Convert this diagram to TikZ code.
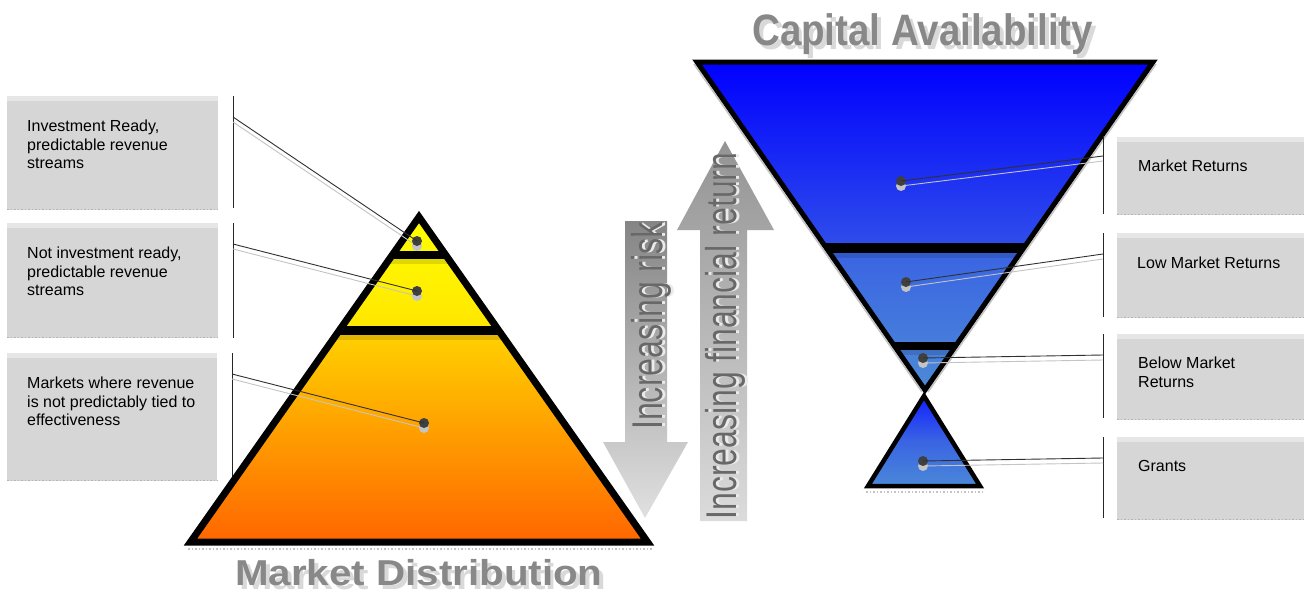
\documentclass[tikz,border=0pt]{standalone}
\usepackage{fontspec}
\setmainfont{Liberation Sans}
\usepackage{graphicx}

% palette
\definecolor{boxgray}{HTML}{D6D6D6}
\definecolor{boxtop}{HTML}{E6E6E6}
\definecolor{boxedge}{HTML}{B4B4B4}
\definecolor{leadgray}{HTML}{303030}
\definecolor{shadowgray}{HTML}{C4C4C4}
\definecolor{dotgray}{HTML}{404040}
\definecolor{titlegray}{HTML}{888888}
\definecolor{titleshadow}{HTML}{D9D9D9}
\definecolor{arrowtextgray}{HTML}{686868}
\definecolor{arrowshadow}{HTML}{EBEBEB}
\definecolor{pyrA}{HTML}{FFFF00}
\definecolor{pyrB}{HTML}{FFE600}
\definecolor{pyrB2}{HTML}{FFD000}
\definecolor{pyrC}{HTML}{FF6600}
\definecolor{funA}{HTML}{0000FF}
\definecolor{funB}{HTML}{2E4CEB}
\definecolor{funB2}{HTML}{3A64E3}
\definecolor{funC}{HTML}{4C8AD7}
\definecolor{grA}{HTML}{1020FF}
\definecolor{grC}{HTML}{4A88D8}

% vertical shadings (the path box spans 25bp..75bp)
\pgfdeclareverticalshading{pyramidfill}{100bp}{color(0bp)=(pyrC); color(25bp)=(pyrC); color(56.8bp)=(pyrB2); color(58bp)=(pyrB); color(75bp)=(pyrA); color(100bp)=(pyrA)}
\pgfdeclareverticalshading{funnelfill}{100bp}{color(0bp)=(funC); color(25bp)=(funC); color(46bp)=(funB2); color(47.5bp)=(funB); color(75bp)=(funA); color(100bp)=(funA)}

% text with a soft offset shadow: #1 text, #2 shadow colour, #3 text colour, #4 right shift, #5 down shift
\newcommand\castshadow[5]{\rlap{\kern#4\raisebox{-#5}{\color{#2}#1}}{\color{#3}#1}}

\begin{document}
\begin{tikzpicture}[x=1pt,y=-1pt,
  labelbox/.style={fill=boxgray, draw=none, inner sep=0, anchor=north west},
  labeltext/.style={font=\fontsize{16}{18.3}\selectfont, text=black, align=left, inner sep=0, anchor=north west},
  leader/.style={draw=leadgray, line width=0.9},
  leadshadow/.style={draw=shadowgray, line width=0.9},
  vbar/.style={draw=black!85, line width=1},
  dot/.style={circle, fill=dotgray, inner sep=0, minimum size=10},
  dotshadow/.style={circle, fill=shadowgray, inner sep=0, minimum size=10},
  titletext/.style={font=\fontsize{44}{50}\selectfont\bfseries, inner sep=0, anchor=base west},
  arrowtext/.style={font=\fontsize{43}{50}\selectfont, inner sep=0, anchor=base, rotate=90},
  outline/.style={draw=black, line join=miter}
]
\useasboundingbox[fill=white] (0,0) rectangle (1304,592);

% ---------- left label boxes ----------
\node[labelbox, minimum width=211, minimum height=114] (lbox1) at (7,96) {};
\node[labelbox, minimum width=211, minimum height=115] (lbox2) at (7,223) {};
\node[labelbox, minimum width=210, minimum height=128] (lbox3) at (7,353) {};
\foreach \b in {lbox1,lbox2,lbox3}{
  \fill[boxtop] (\b.north west) rectangle ([yshift=-5pt]\b.north east);
  \draw[boxedge, dotted, line width=1.5] ([yshift=1pt]\b.south west) -- ([yshift=1pt]\b.south east);
}
\node[labeltext] (ltext1) at (27,120) {Investment Ready,\\predictable revenue\\streams};
\node[labeltext] (ltext2) at (27,247) {Not investment ready,\\predictable revenue\\streams};
\node[labeltext] (ltext3) at (27,377) {Markets where revenue\\is not predictably tied to\\effectiveness};

% brackets beside the left boxes
\coordinate (lv1a) at (233,96);  \coordinate (lv1b) at (233,208);
\coordinate (lv2a) at (233,223); \coordinate (lv2b) at (233,338);
\coordinate (lv3a) at (232,353); \coordinate (lv3b) at (232,480);
\draw[vbar] (lv1a) -- (lv1b);
\draw[vbar] (lv2a) -- (lv2b);
\draw[vbar] (lv3a) -- (lv3b);

% ---------- pyramid ----------
\coordinate (pA) at (419,217);
\coordinate (pL) at (190.5,542);
\coordinate (pR) at (647.5,542);
\shade[shading=pyramidfill] (pA) -- (pL) -- (pR) -- cycle;
\begin{scope}
  \clip (pA) -- (pL) -- (pR) -- cycle;
  \fill[black, opacity=0.12] (150,259) rectangle (700,264);
  \fill[black, opacity=0.12] (150,335) rectangle (700,340);
  \fill[black] (150,251) rectangle (700,259);
  \fill[black] (150,326) rectangle (700,335);
\end{scope}
\draw[shadowgray, line width=1.5, dotted] (188,549) -- (652,549);
\draw[outline, line width=7] (pA) -- (pL) -- (pR) -- cycle;

% ---------- funnel ----------
\coordinate (fL) at (697,62);
\coordinate (fR) at (1153,62);
\coordinate (fA) at (925,390);
\draw[shadowgray, line width=1.5] ([xshift=3pt,yshift=-2pt]fR) -- ([xshift=3pt,yshift=-2pt]fA);
\draw[shadowgray, line width=1.5] ([xshift=-3pt,yshift=-2pt]fL) -- ([xshift=-3pt,yshift=-2pt]fA);
\shade[shading=funnelfill] (fL) -- (fR) -- (fA) -- cycle;
\begin{scope}
  \clip (fL) -- (fR) -- (fA) -- cycle;
  \fill[black, opacity=0.12] (650,253) rectangle (1200,258);
  \fill[black, opacity=0.12] (650,350) rectangle (1200,355);
  \fill[black] (650,243) rectangle (1200,253);
  \fill[black] (650,342) rectangle (1200,350);
\end{scope}
\draw[outline, line width=5] (fL) -- (fR) -- (fA) -- cycle;

% grants triangle
\coordinate (gA) at (924,396);
\coordinate (gL) at (868,486);
\coordinate (gR) at (980,486);
\shade[top color=grA, bottom color=grC, middle color=funB2] (gA) -- (gL) -- (gR) -- cycle;
\draw[shadowgray, line width=1.5, dotted] (866,492) -- (984,492);
\draw[outline, line width=4.5] (gA) -- (gL) -- (gR) -- cycle;

% ---------- right label boxes ----------
\node[labelbox, minimum width=187, minimum height=78] (rbox1) at (1117,137) {};
\node[labelbox, minimum width=187, minimum height=85] (rbox2) at (1117,233) {};
\node[labelbox, minimum width=187, minimum height=86] (rbox3) at (1117,334) {};
\node[labelbox, minimum width=187, minimum height=83] (rbox4) at (1117,437) {};
\foreach \b in {rbox1,rbox2,rbox3,rbox4}{
  \fill[boxtop] (\b.north west) rectangle ([yshift=-5pt]\b.north east);
  \draw[boxedge, dotted, line width=1.5] ([yshift=1pt]\b.south west) -- ([yshift=1pt]\b.south east);
}
\node[labeltext] (rtext1) at (1138,160) {Market Returns};
\node[labeltext] (rtext2) at (1137,257) {Low Market Returns};
\node[labeltext] (rtext3) at (1138,357) {Below Market\\Returns};
\node[labeltext] (rtext4) at (1138,460) {Grants};

\coordinate (rv1a) at (1103,136); \coordinate (rv1b) at (1103,214);
\coordinate (rv2a) at (1103,233); \coordinate (rv2b) at (1103,317);
\coordinate (rv3a) at (1103,334); \coordinate (rv3b) at (1103,418);
\coordinate (rv4a) at (1103,437); \coordinate (rv4b) at (1103,518);
\draw[vbar] (rv1a) -- (rv1b);
\draw[vbar] (rv2a) -- (rv2b);
\draw[vbar] (rv3a) -- (rv3b);
\draw[vbar] (rv4a) -- (rv4b);

% ---------- arrows ----------
\coordinate (dnA) at (625,221);
\shade[top color=black!48, bottom color=black!12]
  (dnA) -- (667,221) -- (667,442) -- (688,442) -- (645,518) -- (603,442) -- (625,442) -- cycle;
\coordinate (upA) at (725,141);
\shade[top color=black!42, bottom color=black!14]
  (upA) -- (774,230) -- (747,230) -- (747,521) -- (700,521) -- (700,230) -- (677,230) -- cycle;

\node[arrowtext] (risk) at (662,326)
  {\scalebox{0.75}[1]{\castshadow{Increasing risk}{arrowshadow}{arrowtextgray}{0pt}{3pt}}};
\node[arrowtext] (return) at (736,336)
  {\scalebox{0.745}[1]{\castshadow{Increasing financial return}{arrowshadow}{arrowtextgray}{0pt}{3pt}}};

% ---------- titles ----------
\node[titletext] (captitle) at (752,45)
  {\scalebox{0.875}[1]{\castshadow{Capital Availability}{titleshadow}{titlegray}{4.5pt}{4pt}}};
\node[titletext, font=\fontsize{36}{42}\selectfont\bfseries] (mkttitle) at (235,585)
  {\scalebox{1.12}[1]{\castshadow{Market Distribution}{titleshadow}{titlegray}{3.5pt}{4pt}}};

% ---------- markers and leader lines ----------
\node[dotshadow] (d1s) at (417,246) {};
\node[dotshadow] (d2s) at (417,296) {};
\node[dotshadow] (d3s) at (424,428) {};
\node[dotshadow] (e1s) at (901,186) {};
\node[dotshadow] (e2s) at (906,287) {};
\node[dotshadow] (e3s) at (923,363) {};
\node[dotshadow] (e4s) at (923,466) {};

\coordinate (l1) at (233,117);
\coordinate (l2) at (233,244);
\coordinate (l3) at (232,374);
\coordinate (r1) at (1103,156);
\coordinate (r2) at (1103,254);
\coordinate (r3) at (1103,355);
\coordinate (r4) at (1103,458);

\draw[leadshadow] ([yshift=-5pt]l1) -- (d1s.center);
\draw[leadshadow] ([yshift=-5pt]l2) -- (d2s.center);
\draw[leadshadow] ([yshift=-5pt]l3) -- (d3s.center);
\draw[leadshadow] ([yshift=-5pt]r1) -- (e1s.center);
\draw[leadshadow] ([yshift=-5pt]r2) -- (e2s.center);
\draw[leadshadow] ([yshift=-5pt]r3) -- (e3s.center);
\draw[leadshadow] ([yshift=-5pt]r4) -- (e4s.center);

\node[dot] (d1) at (417,241) {};
\node[dot] (d2) at (417,291) {};
\node[dot] (d3) at (424,423) {};
\node[dot] (e1) at (901,181) {};
\node[dot] (e2) at (906,282) {};
\node[dot] (e3) at (923,358) {};
\node[dot] (e4) at (923,461) {};

\draw[leader] (l1) -- (d1.center);
\draw[leader] (l2) -- (d2.center);
\draw[leader] (l3) -- (d3.center);
\draw[leader] (r1) -- (e1.center);
\draw[leader] (r2) -- (e2.center);
\draw[leader] (r3) -- (e3.center);
\draw[leader] (r4) -- (e4.center);
\end{tikzpicture}
\end{document}
